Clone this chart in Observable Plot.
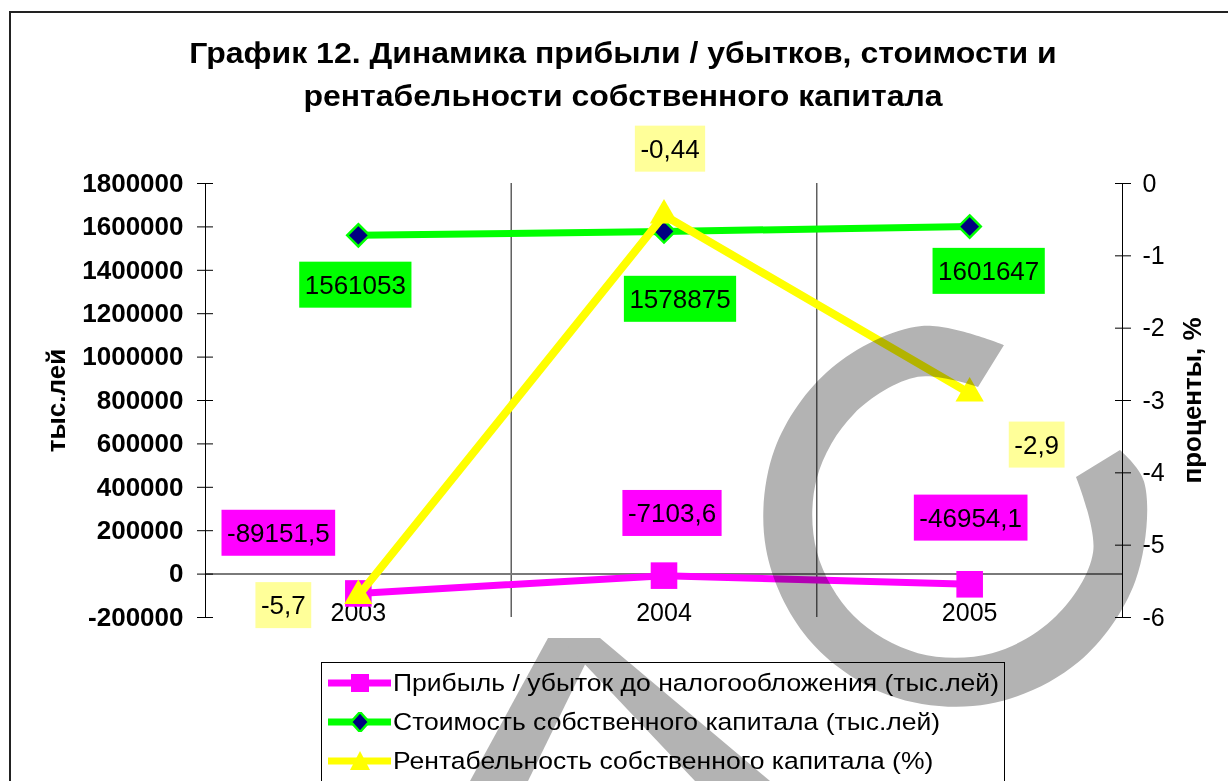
<!DOCTYPE html>
<html>
<head>
<meta charset="utf-8">
<script src="https://cdn.jsdelivr.net/npm/d3@7"></script>
<script src="https://cdn.jsdelivr.net/npm/@observablehq/plot@0.6"></script>
<style>
  html, body { margin: 0; padding: 0; background: #fff; }
  #wrap { position: relative; width: 1228px; height: 781px; overflow: hidden; background: #fff;
          font-family: "Liberation Sans", Arial, sans-serif; color: #000; }
  #title { position: absolute; left: 0; top: 32px; width: 1246px; text-align: center; font-weight: bold;
           font-size: 29px; line-height: 43px; white-space: nowrap; transform: scaleX(1.103); transform-origin: 50% 0; }
  #chart { position: absolute; left: 0; top: 0; }
  #border { position: absolute; left: 9px; top: 11px; width: 1400px; height: 1000px; border: 2px solid #222; }
  #legend { position: absolute; left: 321px; top: 662px; width: 682px; height: 140px; border: 1px solid #000; background: #fff; }
  .lrow { display: flex; align-items: center; height: 39px; font-size: 24.5px; white-space: nowrap; }
  .lrow svg { margin-left: 3px; flex: none; }
  .lrow span { display: inline-block; transform-origin: 0 50%; }
  #wm { position: absolute; left: 0; top: 0; mix-blend-mode: multiply; pointer-events: none; }
</style>
</head>
<body>
<div id="wrap">
  <div id="title"></div>
  <div id="legend"></div>
  <div id="chart"></div>
  <div id="border"></div>
  <svg id="wm" width="1228" height="781"></svg>
</div>
<script>
// ---------------- data ----------------
const titleLines = ["График 12. Динамика прибыли / убытков, стоимости и", "рентабельности собственного капитала"];
const years = [2003, 2004, 2005];
const profit = [-89151.5, -7103.6, -46954.1];        // тыс.лей (left axis)
const equity = [1561053, 1578875, 1601647];          // тыс.лей (left axis)
const roe = [-5.7, -0.44, -2.9];                     // % (right axis)
const leftTicks = [-200000, 0, 200000, 400000, 600000, 800000, 1000000, 1200000, 1400000, 1600000, 1800000];
const rightTicks = [0, -1, -2, -3, -4, -5, -6];
const seriesNames = [
  "Прибыль / убыток до налогообложения (тыс.лей)",
  "Стоимость собственного капитала (тыс.лей)",
  "Рентабельность собственного капитала (%)"
];
const axisTitles = ["тыс.лей", "проценты, %"];

// ---------------- layout / style ----------------
const labelNudges = [
  [[-80, -60], [8, -62], [1, -66]],
  [[-3, 50], [16, 68], [19, 45]],
  [[-75, 10], [6, -66], [67, 52]]
];
const colors = { profit: "#FF00FF", equity: "#00FF00", equityFill: "#000080", roe: "#FFFF00", roeLabel: "#FFFF99" };
const font = '"Liberation Sans", Arial, sans-serif';

// ---------------- scales helpers ----------------
const leftDomain = [d3.min(leftTicks), d3.max(leftTicks)];
const rightDomain = [d3.min(rightTicks), d3.max(rightTicks)];
const toLeft = p => leftDomain[0] + (p - rightDomain[0]) / (rightDomain[1] - rightDomain[0]) * (leftDomain[1] - leftDomain[0]);
const toRight = v => rightDomain[0] + (v - leftDomain[0]) / (leftDomain[1] - leftDomain[0]) * (rightDomain[1] - rightDomain[0]);
const fmt = v => String(v).replace(".", ",");

const rows = years.map((year, i) => ({ year, profit: profit[i], equity: equity[i], roe: roe[i] }));
const boundaries = years.slice(1).map(y => y - 0.5);

const series = [
  { key: "profit", y: d => d.profit, raw: d => d.profit, stroke: colors.profit, bg: colors.profit,
    dot: { symbol: "square", r: 15, fill: colors.profit } },
  { key: "equity", y: d => d.equity, raw: d => d.equity, stroke: colors.equity, bg: colors.equity,
    dot: { symbol: "diamond2", r: 10, fill: colors.equityFill, stroke: colors.equity, strokeWidth: 2.5 } },
  { key: "roe", y: d => toLeft(d.roe), raw: d => d.roe, stroke: colors.roe, bg: colors.roeLabel,
    dot: { symbol: "triangle", r: 10.5, fill: colors.roe } }
];

document.getElementById("title").innerHTML = titleLines.join("<br>");

const marks = [
  Plot.ruleX(boundaries, { stroke: "#111", strokeWidth: 1 }),
  Plot.ruleY([0], { stroke: "#7a7a7a", strokeWidth: 2 }),
  Plot.frame({ anchor: "left", stroke: "#000" }),
  Plot.frame({ anchor: "right", stroke: "#000" }),
  Plot.axisY(leftTicks, { anchor: "left", tickSize: 16, dx: 8, tickPadding: 14, tickFormat: d => String(d),
    fontSize: 26, fontWeight: "bold", label: null }),
  Plot.axisY(rightTicks.map(toLeft), { anchor: "right", tickSize: 16, dx: -8, tickPadding: 12,
    tickFormat: d => String(Math.round(toRight(d)) || 0), fontSize: 25, label: null }),
  Plot.text([axisTitles[0]], { frameAnchor: "left", text: d => d, rotate: -90, dx: -149, textAnchor: "middle",
    fontSize: 26, fontWeight: "bold", fill: "#000" }),
  Plot.text([axisTitles[1]], { frameAnchor: "right", text: d => d, rotate: -90, dx: 70, textAnchor: "middle",
    fontSize: 26, fontWeight: "bold", fill: "#000" }),
  Plot.text(years, { x: d => d, y: () => 0, text: d => String(d), dy: 39, fontSize: 25, fill: "#000" })
];

for (const s of series) {
  marks.push(Plot.line(rows, { x: "year", y: s.y, stroke: s.stroke, strokeWidth: s.key === "roe" ? 8 : 7,
    strokeLinejoin: "round", strokeLinecap: "butt" }));
  marks.push(Plot.dot(rows, { x: "year", y: s.y, ...s.dot }));
}
const labelBg = new Map();
series.forEach((s, si) => {
  rows.forEach((row, i) => {
    labelBg.set(fmt(s.raw(row)), s.bg);
    marks.push(Plot.text([row], { x: "year", y: s.y, text: d => fmt(s.raw(d)),
      dx: labelNudges[si][i][0], dy: labelNudges[si][i][1], fontSize: 26, fill: "#000" }));
  });
});

const chart = Plot.plot({
  width: 1228, height: 660,
  marginLeft: 205, marginRight: 106, marginTop: 183, marginBottom: 43,
  x: { type: "linear", domain: [years[0] - 0.5, years[years.length - 1] + 0.5], axis: null },
  y: { domain: leftDomain, axis: null },
  style: { fontFamily: font, background: "transparent", overflow: "visible", color: "#000" },
  marks
});
document.getElementById("chart").appendChild(chart);

// label background boxes
chart.querySelectorAll("text").forEach(t => {
  const c = labelBg.get(t.textContent);
  if (!c) return;
  const bb = t.getBBox();
  const padX = 5.5, padY = 8;
  const r = document.createElementNS("http://www.w3.org/2000/svg", "rect");
  r.setAttribute("x", bb.x - padX);
  r.setAttribute("y", bb.y - padY);
  r.setAttribute("width", bb.width + 2 * padX);
  r.setAttribute("height", bb.height + 2 * padY);
  r.setAttribute("fill", c);
  if (t.getAttribute("transform")) r.setAttribute("transform", t.getAttribute("transform"));
  t.parentNode.insertBefore(r, t);
});

// legend
const legend = document.getElementById("legend");
const swatches = [
  `<line x1="3" y1="10" x2="66" y2="10" stroke="${colors.profit}" stroke-width="7"/><rect x="26" y="1" width="18" height="18" fill="${colors.profit}"/>`,
  `<line x1="3" y1="10" x2="66" y2="10" stroke="${colors.equity}" stroke-width="7"/><path d="M35,0 L44,10 L35,20 L26,10Z" fill="${colors.equityFill}" stroke="${colors.equity}" stroke-width="2.5"/>`,
  `<line x1="3" y1="10" x2="66" y2="10" stroke="${colors.roe}" stroke-width="7"/><path d="M35,0 L45,19 L25,19Z" fill="${colors.roe}"/>`
];
const spans = seriesNames.map((name, i) => {
  const row = document.createElement("div");
  row.className = "lrow";
  row.innerHTML = `<svg width="68" height="20">${swatches[i]}</svg><span>${name}</span>`;
  legend.appendChild(row);
  return row.querySelector("span");
});
const legendScale = 606 / spans[0].getBoundingClientRect().width;
spans.forEach(s => s.style.transform = `scaleX(${legendScale})`);

// decorative watermark (grey shapes over the picture)
const wm = d3.select("#wm");
const cx = 955, cy = 515, R = 192, r0 = 143;
const rad = a => a * Math.PI / 180;
const outer = [[1120, 450]].concat(d3.range(-10, 261, 30).map(a => [cx + R * Math.cos(rad(a)), cy + R * Math.sin(rad(a))])).concat([[1004, 345]]);
const inner = [[978, 387]].concat(d3.range(255, 14, -30).map(a => [cx + r0 * Math.cos(rad(a)), cy + r0 * Math.sin(rad(a))])).concat([[1076, 477]]);
const gen = d3.line().curve(d3.curveCatmullRom);
const ringPath = gen(outer) + "L" + gen(inner).slice(1) + "Z";
wm.append("path").attr("d", ringPath).attr("fill", "#b3b3b3");
wm.append("path").attr("d", "M548,638 L598,638 L528,781 L470,781Z").attr("fill", "#b3b3b3");
wm.append("path").attr("d", "M560,638 L600,638 L770,781 L695,781Z").attr("fill", "#b3b3b3");
</script>
</body>
</html>
